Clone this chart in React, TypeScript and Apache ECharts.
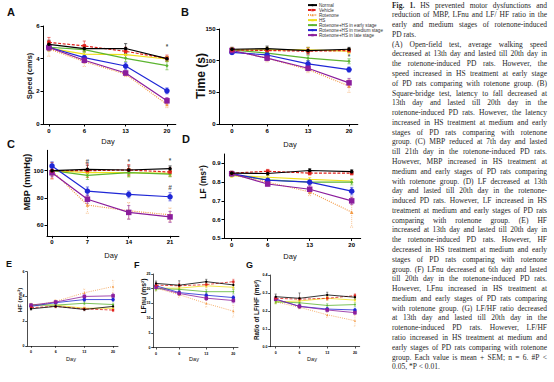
import React, { useEffect, useRef } from "react";
import * as echarts from "echarts";

const days = [0, 6, 13, 20];
const dayLabels = ["0", "6", "13", "20"];
const mbpDayLabels = ["0", "7", "14", "21"];

const seriesNames = [
  "Normal",
  "Vehicle",
  "Rotenone",
  "HS",
  "Rotenone+HS in early stage",
  "Rotenone+HS in medium stage",
  "Rotenone+HS in late stage",
];

// A: Speed (cm/s)
const speedMean = [
  [4.88, 4.62, 4.62, 4.0],
  [5.0, 4.78, 4.45, 4.02],
  [4.6, 3.82, 3.05, 1.2],
  [4.65, 4.28, 4.25, 3.98],
  [4.7, 4.55, 4.02, 3.57],
  [4.7, 4.06, 3.55, 2.03],
  [4.68, 3.9, 3.12, 1.42],
];
const speedSem = [
  [0.25, 0.2, 0.3, 0.12],
  [0.3, 0.3, 0.25, 0.2],
  [0.45, 0.3, 0.15, 0.2],
  [0.2, 0.15, 0.2, 0.15],
  [0.2, 0.15, 0.2, 0.25],
  [0.2, 0.15, 0.2, 0.18],
  [0.2, 0.15, 0.15, 0.2],
];
const speedTicks = [0, 2, 4, 6];
const speedMarks = [{ x: 20, y: 4.72, text: "*" }];

// B: Time (s)
const timeMean = [
  [118, 119, 116, 118],
  [117, 116, 115, 116],
  [116, 104, 86, 60],
  [117, 117, 117, 115],
  [117, 112, 104, 99],
  [113, 109, 95, 86],
  [116, 104, 88, 65],
];
const timeSem = [
  [3, 4, 5, 3],
  [4, 4, 5, 3],
  [4, 6, 5, 10],
  [3, 4, 4, 4],
  [3, 4, 4, 4],
  [3, 4, 5, 4],
  [3, 4, 4, 7],
];
const timeTicks = [0, 50, 100, 150];
const timeMarks = [{ x: 20, y: 107, text: "*" }];

// C: MBP (mmHg)
const mbpMean = [
  [100, 101, 100.5, 101.5],
  [100, 100, 100.5, 99],
  [100, 74.7, 70.5, 67.5],
  [100, 98.5, 98.5, 98],
  [100, 96.5, 98.5, 97.5],
  [103.5, 85, 82.5, 80.8],
  [98.5, 79, 69.3, 66],
];
const mbpSem = [
  [3, 3, 3, 2],
  [6, 5, 4, 3],
  [6, 6, 6, 5],
  [3, 3, 3, 2],
  [3, 3, 3, 2],
  [3, 3, 2.5, 3],
  [3, 3, 5, 4],
];
const mbpTicks = [60, 80, 100];
const mbpMarks = [
  { x: 6, y: 106.4, text: "#" },
  { x: 13, y: 106.4, text: "*" },
  { x: 20, y: 107.8, text: "*" },
  { x: 20, y: 87.5, text: "#" },
];

// D: LF (ms2)
const lfMean = [
  [0.848, 0.846, 0.862, 0.856],
  [0.848, 0.858, 0.848, 0.848],
  [0.84, 0.8, 0.748, 0.64],
  [0.835, 0.826, 0.815, 0.806],
  [0.84, 0.812, 0.8, 0.8],
  [0.845, 0.81, 0.8, 0.752],
  [0.845, 0.79, 0.762, 0.7],
];
const lfSem = [
  [0.01, 0.01, 0.01, 0.01],
  [0.01, 0.01, 0.01, 0.01],
  [0.01, 0.015, 0.02, 0.08],
  [0.01, 0.01, 0.01, 0.01],
  [0.01, 0.01, 0.01, 0.015],
  [0.01, 0.01, 0.01, 0.02],
  [0.01, 0.01, 0.02, 0.02],
];
const lfTicks = [0.5, 0.6, 0.7, 0.8, 0.9];

// E: HF (ms2)
const hfMean = [
  [3.0, 3.2, 2.95, 3.2],
  [3.1, 3.2, 3.0, 2.9],
  [3.2, 3.6, 4.3, 4.8],
  [3.35, 3.3, 3.05, 3.05],
  [3.3, 3.3, 3.45, 3.35],
  [3.2, 3.5, 3.75, 3.75],
  [3.3, 3.55, 4.0, 4.05],
];
const hfSem = [
  [0.1, 0.1, 0.1, 0.12],
  [0.12, 0.1, 0.12, 0.12],
  [0.12, 0.15, 0.3, 0.5],
  [0.1, 0.1, 0.1, 0.1],
  [0.1, 0.1, 0.12, 0.12],
  [0.1, 0.1, 0.15, 0.15],
  [0.1, 0.1, 0.2, 0.2],
];
const hfTicks = [0, 2, 4, 6];

// F: LFnu (ms2)
const lfnuMean = [
  [21.8, 21.2, 22.4, 21.3],
  [21.2, 21.0, 21.4, 22.4],
  [20.2, 18.0, 15.0, 12.4],
  [20.2, 20.2, 21.0, 20.5],
  [20.0, 19.8, 19.0, 19.0],
  [21.0, 18.7, 17.8, 17.0],
  [20.5, 18.4, 16.8, 16.0],
];
const lfnuSem = [
  [0.8, 1.5, 0.8, 1],
  [0.8, 0.8, 0.8, 0.8],
  [1, 1, 1.2, 2],
  [0.7, 0.7, 0.7, 0.7],
  [0.7, 0.7, 0.7, 0.7],
  [0.7, 0.7, 0.8, 0.8],
  [0.7, 0.7, 0.8, 0.8],
];
const lfnuTicks = [0, 5, 10, 15, 20, 25];

// G: Ratio of LF/HF
const ratioMean = [
  [0.279, 0.27, 0.289, 0.276],
  [0.27, 0.265, 0.27, 0.285],
  [0.25, 0.22, 0.178, 0.145],
  [0.25, 0.255, 0.27, 0.26],
  [0.25, 0.245, 0.23, 0.235],
  [0.265, 0.225, 0.21, 0.205],
  [0.265, 0.225, 0.205, 0.19],
];
const ratioSem = [
  [0.015, 0.03, 0.015, 0.012],
  [0.01, 0.01, 0.01, 0.01],
  [0.01, 0.01, 0.015, 0.03],
  [0.01, 0.01, 0.01, 0.01],
  [0.01, 0.01, 0.01, 0.01],
  [0.01, 0.01, 0.01, 0.01],
  [0.01, 0.01, 0.01, 0.01],
];
const ratioTicks = [0, 0.1, 0.2, 0.3, 0.4];

const captionLines = [
  "Fig. 1. HS prevented motor dysfunctions and",
  "reduction of MBP, LFnu and LF/ HF ratio in the",
  "early and medium stages of rotenone-induced",
  "PD rats.",
  "(A) Open-field test, average walking speed",
  "decreased at 13th day and lasted till 20th day in",
  "the rotenone-induced PD rats. However, the",
  "speed increased in HS treatment at early stage",
  "of PD rats comparing with rotenone group. (B)",
  "Square-bridge test, latency to fall decreased at",
  "13th day and lasted till 20th day in the",
  "rotenone-induced PD rats. However, the latency",
  "increased in HS treatment at medium and early",
  "stages of PD rats comparing with rotenone",
  "group. (C) MBP reduced at 7th day and lasted",
  "till 21th day in the rotenone-induced PD rats.",
  "However, MBP increased in HS treatment at",
  "medium and early stages of PD rats comparing",
  "with rotenone group. (D) LF decreased at 13th",
  "day and lasted till 20th day in the rotenone-",
  "induced PD rats. However, LF increased in HS",
  "treatment at medium and early stages of PD rats",
  "comparing with rotenone group. (E) HF",
  "increased at 13th day and lasted till 20th day in",
  "the rotenone-induced PD rats. However, HF",
  "decreased in HS treatment at medium and early",
  "stages of PD rats comparing with rotenone",
  "group. (F) LFnu decreased at 6th day and lasted",
  "till 20th day in the rotenone-induced PD rats.",
  "However, LFnu increased in HS treatment at",
  "medium and early stages of PD rats comparing",
  "with rotenone group. (G) LF/HF ratio decreased",
  "at 13th day and lasted till 20th day in the",
  "rotenone-induced PD rats. However, LF/HF",
  "ratio increased in HS treatment at medium and",
  "early stages of PD rats comparing with rotenone",
  "group. Each value is mean + SEM; n = 6. #P <",
  "0.05, *P < 0.01.",
];
const captionRagged = [3, 37];

// styles
const seriesColors = ["#000000", "#e0201b", "#f39a45", "#f0e01a", "#5cb531", "#1f27d6", "#8b1d9c"];
const seriesDash: any[] = ["solid", [3, 1.6], [1, 1.2], "solid", "solid", "solid", "solid"];
const seriesSymbols = ["circle", "rect", "triangle", "triangle", "diamond", "circle", "rect"];
const seriesSymbolSizes = [3.5, 3.5, 3.5, 3, 3.5, 5.5, 5.5];
const seriesZ = [9, 8, 3, 4, 5, 6, 7];

const SANS = "Liberation Sans";
const SERIF = "Liberation Serif";

type Mark = { x: number; y: number; text: string };
type Panel = {
  mean: number[][];
  sem: number[][];
  marks: Mark[];
  yTicks: number[];
  xLabels: string[];
  digits: number;
  box: [number, number, number, number];
  x: [number, number];
  y: [number, number];
  big: boolean;
};

const panels: Panel[] = [
  { mean: speedMean, sem: speedSem, marks: speedMarks, yTicks: speedTicks, xLabels: dayLabels, digits: 0, box: [43, 26, 132.8, 98], x: [-1, 21.5], y: [0, 6], big: true },
  { mean: timeMean, sem: timeSem, marks: timeMarks, yTicks: timeTicks, xLabels: dayLabels, digits: 0, box: [219, 29, 138.8, 95], x: [-2.22, 21.5], y: [0, 150], big: true },
  { mean: mbpMean, sem: mbpSem, marks: mbpMarks, yTicks: mbpTicks, xLabels: mbpDayLabels, digits: 0, box: [47, 150.3, 131.9, 85.6], x: [-0.85, 21.5], y: [52, 115], big: true },
  { mean: lfMean, sem: lfSem, marks: [], yTicks: lfTicks, xLabels: dayLabels, digits: 1, box: [224, 154, 136.7, 84.4], x: [-1.28, 21.5], y: [0.5, 0.95], big: true },
  { mean: hfMean, sem: hfSem, marks: [], yTicks: hfTicks, xLabels: dayLabels, digits: 0, box: [27, 271.7, 91, 74.3], x: [-0.98, 21.2], y: [0, 6], big: false },
  { mean: lfnuMean, sem: lfnuSem, marks: [], yTicks: lfnuTicks, xLabels: dayLabels, digits: 0, box: [153, 274, 85, 73.7], x: [-0.78, 21.2], y: [0, 25], big: false },
  { mean: ratioMean, sem: ratioSem, marks: [], yTicks: ratioTicks, xLabels: dayLabels, digits: 1, box: [270, 275, 89.7, 71.7], x: [-1.44, 21.2], y: [0, 0.4], big: false },
];

const CAP_LEFT = 392;
const CAP_RIGHT = 547;
const CAP_TOP = 5;
const CAP_LEAD = 9.78;
const CAP_SIZE = 7.5;

function captionGraphics() {
  const canvas = document.createElement("canvas");
  const ctx = canvas.getContext("2d")!;
  const out: any[] = [];
  captionLines.forEach((line, i) => {
    const words = line.split(" ");
    const weights = words.map((_, k) => (i === 0 && k < 2 ? "bold" : "normal"));
    const widths = words.map((w, k) => {
      ctx.font = `${weights[k]} ${CAP_SIZE}px "${SERIF}"`;
      return ctx.measureText(w).width;
    });
    ctx.font = `normal ${CAP_SIZE}px "${SERIF}"`;
    const space = ctx.measureText(" ").width;
    const total = widths.reduce((a, b) => a + b, 0);
    const justify = !captionRagged.includes(i) && words.length > 1;
    const gap = justify ? (CAP_RIGHT - CAP_LEFT - total) / (words.length - 1) : space;
    let x = CAP_LEFT;
    words.forEach((w, k) => {
      out.push({
        type: "text",
        x,
        y: CAP_TOP + i * CAP_LEAD,
        silent: true,
        style: {
          text: w,
          fontSize: CAP_SIZE,
          fontFamily: SERIF,
          fontWeight: weights[k],
          fill: "#262626",
          align: "left",
          verticalAlign: "middle",
        },
      });
      x += widths[k] + gap;
    });
  });
  return out;
}

function label(text: string, x: number, y: number, size: number, opts: any = {}) {
  return {
    type: "text",
    x,
    y,
    rotation: opts.rotate ? Math.PI / 2 : 0,
    scaleX: opts.scaleX ?? 1,
    silent: true,
    style: {
      text,
      fontSize: size,
      fontFamily: SANS,
      fontWeight: opts.weight ?? "bold",
      fill: "#111",
      align: opts.align ?? "center",
      verticalAlign: "middle",
    },
  };
}

function buildOption() {
  const grid: any[] = [];
  const xAxis: any[] = [];
  const yAxis: any[] = [];
  const series: any[] = [];

  panels.forEach((p, i) => {
    const big = p.big;
    const lw = big ? 1 : 0.7;
    const tickLen = big ? 2.5 : 1.8;
    const tickFont = big ? 6 : 3.6;
    grid.push({ left: p.box[0], top: p.box[1], width: p.box[2], height: p.box[3], containLabel: false });
    xAxis.push({
      type: "value",
      gridIndex: i,
      min: p.x[0],
      max: p.x[1],
      axisLine: { show: true, onZero: false, lineStyle: { color: "#000", width: lw } },
      axisTick: { show: true, customValues: days, length: tickLen, lineStyle: { color: "#000", width: lw } },
      axisLabel: {
        show: true,
        customValues: days,
        formatter: (v: number) => {
          const k = days.indexOf(v);
          return k >= 0 ? p.xLabels[k] : "";
        },
        fontSize: tickFont,
        fontWeight: "bold",
        fontFamily: SANS,
        color: "#000",
        margin: big ? 3.5 : 4,
      },
      splitLine: { show: false },
    });
    yAxis.push({
      type: "value",
      gridIndex: i,
      min: p.y[0],
      max: p.y[1],
      axisLine: { show: true, onZero: false, lineStyle: { color: "#000", width: lw } },
      axisTick: { show: true, customValues: p.yTicks, length: tickLen, lineStyle: { color: "#000", width: lw } },
      axisLabel: {
        show: true,
        customValues: p.yTicks,
        formatter: (v: number) => v.toFixed(p.digits),
        fontSize: tickFont,
        fontWeight: "bold",
        fontFamily: SANS,
        color: "#000",
        margin: big ? 3.5 : 2.5,
      },
      splitLine: { show: false },
    });

    // error bars
    const errData: number[][] = [];
    p.mean.forEach((row, s) => {
      row.forEach((v, j) => errData.push([days[j], v, p.sem[s][j], s]));
    });
    const cap = big ? 1.6 : 1.1;
    series.push({
      type: "custom",
      xAxisIndex: i,
      yAxisIndex: i,
      silent: true,
      z: 1,
      encode: { x: 0, y: 1 },
      data: errData,
      renderItem: (_params: any, api: any) => {
        const x = api.value(0);
        const y = api.value(1);
        const e = api.value(2);
        const s = api.value(3);
        const t = api.coord([x, y + e]);
        const b = api.coord([x, y - e]);
        const style = {
          stroke: seriesColors[s],
          lineWidth: big ? 0.7 : 0.5,
          lineDash: s === 2 ? [1, 1] : null,
          opacity: 0.85,
        };
        return {
          type: "group",
          children: [
            { type: "line", shape: { x1: t[0], y1: t[1], x2: b[0], y2: b[1] }, style },
            { type: "line", shape: { x1: t[0] - cap, y1: t[1], x2: t[0] + cap, y2: t[1] }, style },
            { type: "line", shape: { x1: b[0] - cap, y1: b[1], x2: b[0] + cap, y2: b[1] }, style },
          ],
        };
      },
    });

    seriesNames.forEach((name, s) => {
      series.push({
        type: "line",
        name,
        xAxisIndex: i,
        yAxisIndex: i,
        data: days.map((d, j) => [d, p.mean[s][j]]),
        symbol: seriesSymbols[s],
        symbolSize: seriesSymbolSizes[s] * (big ? 1 : 0.65),
        showSymbol: true,
        lineStyle: { color: seriesColors[s], width: big ? 1.2 : 0.8, type: seriesDash[s] },
        itemStyle: { color: seriesColors[s] },
        z: seriesZ[s],
        emphasis: { disabled: true },
        silent: true,
      });
    });

    if (p.marks.length) {
      series.push({
        type: "scatter",
        xAxisIndex: i,
        yAxisIndex: i,
        silent: true,
        z: 12,
        symbol: "circle",
        symbolSize: 1,
        itemStyle: { color: "rgba(0,0,0,0)" },
        data: p.marks.map((m) => ({ value: [m.x, m.y], label: { formatter: m.text } })),
        label: { show: true, position: "inside", fontSize: 6.5, fontWeight: "bold", color: "#222", fontFamily: SANS },
      });
    }
  });

  const graphic: any[] = [
    label("A", 7, 12, 11, { align: "left" }),
    label("B", 181, 12, 11, { align: "left" }),
    label("C", 7, 144, 11, { align: "left" }),
    label("D", 182, 139, 11, { align: "left" }),
    label("E", 6, 264, 9, { align: "left" }),
    label("F", 134, 265, 9, { align: "left" }),
    label("G", 246, 265, 9, { align: "left" }),
    label("Speed (cm/s)", 29, 76, 7.5, { rotate: true }),
    label("Time (s)", 201, 76, 12, { rotate: true }),
    label("MBP (mmHg)", 27, 182, 9, { rotate: true }),
    label("LF (ms²)", 203, 182, 8.5, { rotate: true }),
    label("HF (ms²)", 20, 300, 6, { rotate: true }),
    label("LFnu (ms²)", 143, 296, 6.8, { rotate: true }),
    label("Ratio of LF/HF (ms²)", 256, 310, 6.3, { rotate: true }),
    label("Day", 108, 141, 7.5, { weight: "normal" }),
    label("Day", 290, 144, 7.5, { weight: "normal" }),
    label("Day", 111, 255, 7.5, { weight: "normal" }),
    label("Day", 290, 256, 7.5, { weight: "normal" }),
    label("Day", 71, 359, 5.6, { weight: "normal" }),
    label("Day", 194, 359, 5.6, { weight: "normal" }),
    label("Day", 312, 359, 5.6, { weight: "normal" }),
    ...captionGraphics(),
  ];

  return {
    animation: false,
    backgroundColor: "#ffffff",
    grid,
    xAxis,
    yAxis,
    series,
    graphic,
    legend: {
      data: seriesNames,
      orient: "vertical",
      left: 307,
      top: 2.6,
      padding: 0,
      itemWidth: 9,
      itemHeight: 3,
      itemGap: 0,
      selectedMode: false,
      textStyle: { fontSize: 4.6, lineHeight: 4.43, color: "#333", fontFamily: SANS, padding: [0, 0, 0, -3] },
    },
  };
}

export default function App() {
  const ref = useRef<HTMLDivElement>(null);
  useEffect(() => {
    const chart = echarts.init(ref.current!, null, { renderer: "svg" });
    chart.setOption(buildOption() as any);
    return () => chart.dispose();
  }, []);
  return (
    <div
      ref={ref}
      style={{ position: "fixed", left: 0, top: 0, width: 554, height: 382, background: "#fff" }}
    />
  );
}
